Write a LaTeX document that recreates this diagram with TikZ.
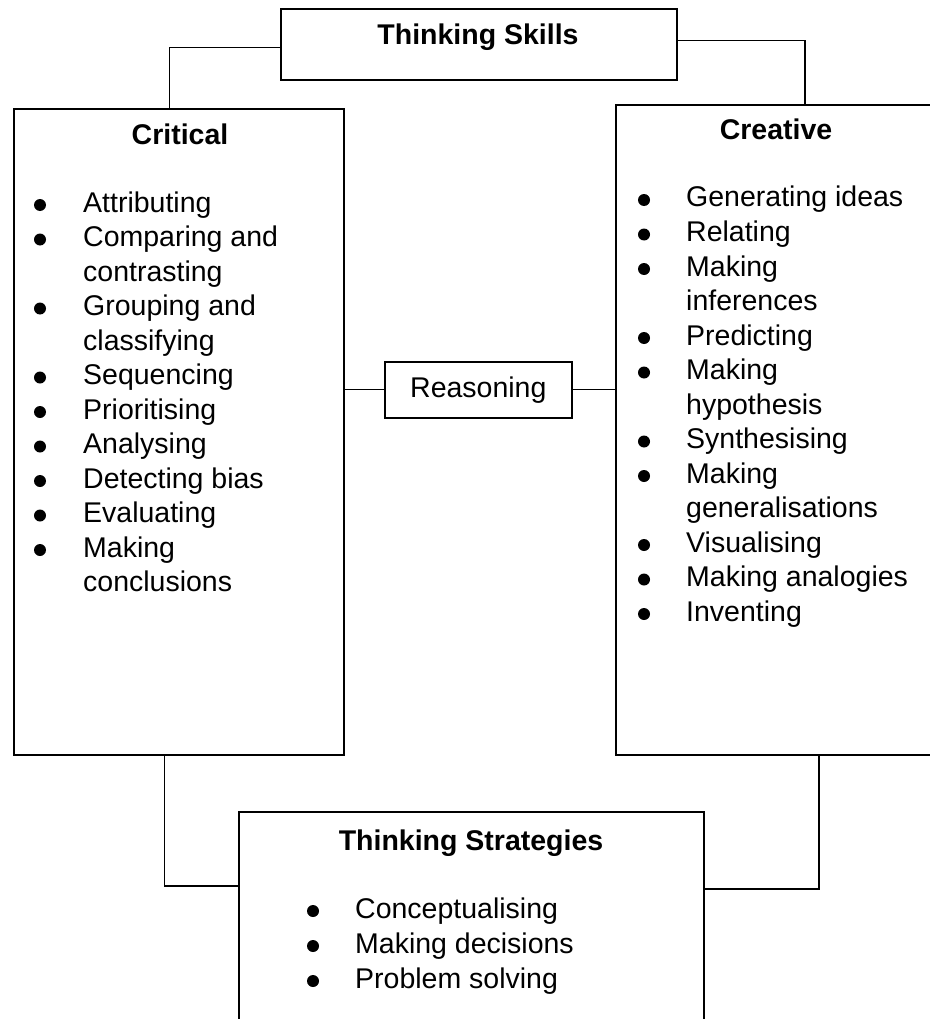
\documentclass[tikz,border=0pt]{standalone}
\usepackage{fontspec}
\setmainfont{Liberation Sans}
\begin{document}
\begin{tikzpicture}[x=1pt,y=-1pt,
  box/.style={draw, line width=1.6pt, rectangle, inner sep=0pt, anchor=north west},
  link/.style={draw, line width=1.3pt},
  txt/.style={inner sep=0pt, anchor=base west, font=\fontsize{28.5}{34.5}\selectfont},
  head/.style={inner sep=0pt, anchor=base, font=\fontsize{28.5}{34.5}\selectfont\bfseries},
  dot/.style={circle, fill, inner sep=0pt, minimum size=12pt}]
\useasboundingbox (0,0) rectangle (929,1019);

% boxes
\node[box, minimum width=396pt, minimum height=71pt] (skills) at (280,8) {};
\node[box, minimum width=330pt, minimum height=646pt] (critical) at (13,108) {};
\node[box, minimum width=340pt, minimum height=650pt] (creative) at (615,104) {};
\node[box, minimum width=465pt, minimum height=230pt] (strategies) at (238,811) {};
\node[box, minimum width=187pt, minimum height=56pt, font=\fontsize{28.5}{34.5}\selectfont] (reasoning) at (384,361) {Reasoning};

% connectors
\draw[link] ([yshift=-3.5pt]skills.west) -| ([xshift=-9pt]critical.north);
\draw[link] ([yshift=3.5pt]skills.east) -| ([xshift=190pt]creative.north west);
\draw[link] (reasoning.west) -- (reasoning.west -| critical.east);
\draw[link] (reasoning.east) -- (reasoning.east -| creative.west);
\draw[link] ([xshift=-14pt]critical.south) |- ([yshift=-75pt]strategies.north west);
\draw[link] ([xshift=204pt]creative.south west) |- ([yshift=-78pt]strategies.north east);

% headings
\node[head] (skills-title) at (478,45) {Thinking Skills};
\node[head] (critical-title) at (180,145) {Critical};
\node[head] (creative-title) at (776,140) {Creative};
\node[head] (strategies-title) at (471,850) {Thinking Strategies};

% critical list
\foreach \t [count=\i] in {Attributing, Comparing and, contrasting, Grouping and,
    classifying, Sequencing, Prioritising, Analysing, Detecting bias, Evaluating,
    Making, conclusions}
  \node[txt] (crit-t\i) at (83, {212+(\i-1)*34.5}) {\t};
\foreach \i in {1,2,4,6,7,8,9,10,11}
  \node[dot] (crit-b\i) at (40, {205+(\i-1)*34.5}) {};

% creative list
\foreach \t [count=\i] in {Generating ideas, Relating, Making, inferences, Predicting,
    Making, hypothesis, Synthesising, Making, generalisations, Visualising,
    Making analogies, Inventing}
  \node[txt] (crea-t\i) at (686, {207+(\i-1)*34.5}) {\t};
\foreach \i in {1,2,3,5,6,8,9,11,12,13}
  \node[dot] (crea-b\i) at (644, {200+(\i-1)*34.5}) {};

% strategies list
\foreach \t [count=\i] in {Conceptualising, Making decisions, Problem solving}
  \node[txt] (strat-t\i) at (355, {918+(\i-1)*35}) {\t};
\foreach \i in {1,2,3}
  \node[dot] (strat-b\i) at (313, {911+(\i-1)*35}) {};
\end{tikzpicture}
\end{document}
